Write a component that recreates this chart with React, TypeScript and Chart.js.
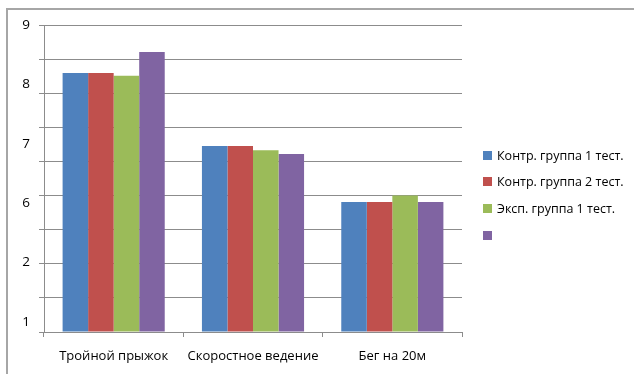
import React, { useEffect, useRef } from "react";
import { Chart, registerables } from "chart.js";

Chart.register(...registerables);

const categories = ["Тройной прыжок", "Скоростное ведение", "Бег на 20м"];
const seriesNames = ["Контр. группа 1 тест.", "Контр. группа 2 тест.", "Эксп. группа 1 тест.", ""];
const control1 = [7.59, 5.45, 3.81];
const control2 = [7.59, 5.45, 3.81];
const exp1 = [7.51, 5.33, 4.0];
const exp2 = [8.21, 5.22, 3.81];
const yTickLabels = ["1", "2", "6", "7", "8", "9"];
const colors = ["#4F81BD", "#C0504D", "#9BBB59", "#8064A2"];

const FONT = "'Open Sans', 'Noto Sans', sans-serif";

export default function App() {
  const ref = useRef<HTMLCanvasElement | null>(null);

  useEffect(() => {
    if (!ref.current) return;
    const values = [control1, control2, exp1, exp2];
    const chart = new Chart(ref.current, {
      type: "bar",
      data: {
        labels: categories,
        datasets: values.map((v, i) => ({
          label: seriesNames[i],
          data: v,
          backgroundColor: colors[i],
          borderWidth: 0,
          categoryPercentage: 0.733,
          barPercentage: 1,
          yAxisID: "y",
        })),
      },
      options: {
        animation: false,
        responsive: false,
        maintainAspectRatio: false,
        layout: { padding: { left: 0, right: 172, top: 25, bottom: 0 } },
        plugins: { legend: { display: false }, tooltip: { enabled: false } },
        scales: {
          x: {
            grid: {
              drawOnChartArea: false,
              drawTicks: true,
              tickLength: 5,
              offset: true,
              color: "#8c8c8c",
            },
            border: { color: "#8c8c8c" },
            ticks: {
              color: "#000",
              font: { family: FONT, size: 13 },
              padding: 11,
              maxRotation: 0,
            },
            afterFit: (s: any) => {
              s.height = 42;
            },
          },
          y: {
            position: "left",
            weight: 0,
            min: 0,
            max: 9,
            ticks: { display: false, stepSize: 1 },
            grid: { color: "#8c8c8c", tickLength: 5, drawTicks: true },
            border: { color: "#8c8c8c" },
            afterFit: (s: any) => {
              s.width = 5;
            },
          },
          yl: {
            position: "left",
            weight: 1,
            min: -0.168,
            max: 5,
            grid: { display: false, drawTicks: false },
            border: { display: false },
            ticks: {
              color: "#000",
              font: { family: FONT, size: 13.5 },
              padding: 9,
              callback: (v: any) => yTickLabels[Math.round(Number(v))] ?? "",
            },
            afterBuildTicks: (s: any) => {
              s.ticks = yTickLabels.map((_, i) => ({ value: i }));
            },
            afterFit: (s: any) => {
              s.width = 39;
            },
          },
        },
      },
    });
    return () => chart.destroy();
  }, []);

  return (
    <div
      style={{
        position: "fixed",
        left: 0,
        top: 0,
        width: 634,
        height: 374,
        overflow: "hidden",
        background: "#fff",
      }}
    >
      <div
        style={{
          position: "absolute",
          left: 6,
          top: 8,
          width: 1000,
          height: 1000,
          borderTop: "2px solid #a6a6a6",
          borderLeft: "2px solid #a6a6a6",
        }}
      />
      <canvas
        ref={ref}
        width={634}
        height={374}
        style={{ position: "absolute", left: 0, top: 0, width: 634, height: 374 }}
      />
      {seriesNames.map((name, i) => (
        <div
          key={i}
          style={{
            position: "absolute",
            left: 483,
            top: 145 + i * 26.7,
            height: 20,
            display: "flex",
            alignItems: "center",
            fontFamily: FONT,
            fontSize: 12.5,
            color: "#000",
            whiteSpace: "nowrap",
          }}
        >
          <span
            style={{
              display: "inline-block",
              width: 9,
              height: 9,
              background: colors[i],
              marginRight: 5,
            }}
          />
          <span>{name}</span>
        </div>
      ))}
    </div>
  );
}
